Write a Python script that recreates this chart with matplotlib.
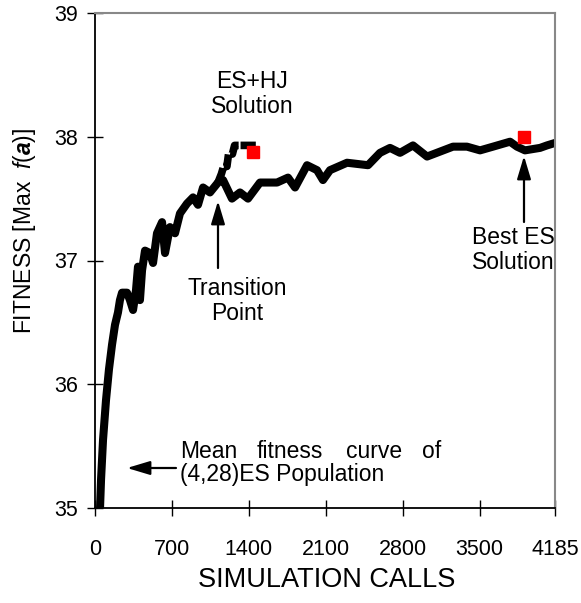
import matplotlib
matplotlib.use("Agg")
import matplotlib.pyplot as plt


# mean fitness curve of the (4,28)ES population
calls = [45, 55, 73, 100, 127, 155, 182, 209, 227, 246, 291, 318, 346, 373,
         391, 409, 428, 455, 500, 528, 564, 610, 637, 682, 728, 773, 837,
         892, 937, 983, 1046, 1119, 1165, 1246, 1319, 1392, 1501, 1656,
         1756, 1820, 1929, 2020, 2074, 2138, 2293, 2484, 2593, 2684, 2775,
         2893, 3021, 3139, 3257, 3384, 3503, 3621, 3776, 3839, 3912, 4049,
         4112, 4185]
fitness = [34.98, 35.23, 35.55, 35.87, 36.12, 36.32, 36.48, 36.58, 36.68,
           36.74, 36.74, 36.68, 36.60, 36.76, 36.95, 36.68, 36.92, 37.08,
           37.06, 36.98, 37.22, 37.31, 37.06, 37.27, 37.22, 37.38, 37.46,
           37.51, 37.45, 37.59, 37.55, 37.63, 37.65, 37.50, 37.55, 37.50,
           37.63, 37.63, 37.67, 37.59, 37.77, 37.73, 37.65, 37.73, 37.79,
           37.77, 37.87, 37.91, 37.87, 37.93, 37.84, 37.88, 37.92, 37.92,
           37.89, 37.92, 37.96, 37.92, 37.89, 37.91, 37.93, 37.95]

# hooke-jeeves branch starting at the transition point
hj_calls = [1119, 1150, 1170, 1200, 1215, 1250, 1270, 1480]
hj_fitness = [37.63, 37.70, 37.76, 37.76, 37.86, 37.86, 37.93, 37.93]

# best solutions
best_hj = (1438, 37.88)
best_es = (3903, 38.00)

x_ticks = [0, 700, 1400, 2100, 2800, 3500, 4185]
y_ticks = [35, 36, 37, 38, 39]

W, H = 581, 603


def fig_xy(px, py):
    return px / W, 1 - py / H


plt.rcParams.update({
    "font.family": ["Liberation Sans", "DejaVu Sans"],
    "mathtext.fontset": "custom",
    "mathtext.rm": "Liberation Sans",
    "mathtext.it": "Liberation Sans:italic",
    "mathtext.bf": "Liberation Sans:bold",
    "mathtext.bfit": "Liberation Sans:italic:bold",
})

fig = plt.figure(figsize=(W / 100, H / 100), dpi=100)
ax = fig.add_axes([95 / W, 1 - 508 / H, 460 / W, 495 / H])

ax.plot(calls, fitness, color="black", linewidth=5.8,
        solid_joinstyle="round", solid_capstyle="round")
ax.plot(hj_calls, hj_fitness, color="black", linewidth=5.5,
        linestyle=(0, (2.0, 0.25)), dash_capstyle="butt")

ax.plot(*best_hj, marker="s", markersize=8.5, color="red", linestyle="none")
ax.plot(*best_es, marker="s", markersize=8.5, color="red", linestyle="none")

ax.set_xlim(0, 4185)
ax.set_ylim(35, 39)
ax.set_xticks(x_ticks)
ax.set_yticks(y_ticks)
ax.tick_params(axis="both", direction="inout", length=11, width=1,
               labelsize=15.5, color="black")
ax.tick_params(axis="x", pad=17)
ax.tick_params(axis="y", pad=7)

for side in ["top", "right"]:
    ax.spines[side].set_color("#888888")
    ax.spines[side].set_linewidth(1.5)
for side in ["left", "bottom"]:
    ax.spines[side].set_color("black")
    ax.spines[side].set_linewidth(1.3)

fig.text(*fig_xy(327, 580), "SIMULATION CALLS", fontsize=19.5,
         ha="center", va="center")
fig.text(*fig_xy(24, 231), r"FITNESS [Max  $f$($\mathbfit{a}$)]",
         fontsize=16.5, rotation=90, ha="center", va="center")

# annotations
arrow = dict(arrowstyle="-|>,head_length=1.4,head_width=0.42",
             color="black", lw=1.6, shrinkA=0, shrinkB=0)

ax.annotate("", xy=fig_xy(218, 201), xytext=fig_xy(218, 268),
            xycoords="figure fraction", textcoords="figure fraction",
            arrowprops=arrow)
fig.text(*fig_xy(237, 301), "Transition\nPoint", fontsize=16.5,
         ha="center", va="center", linespacing=1.1)

ax.annotate("", xy=fig_xy(524, 156), xytext=fig_xy(524, 222),
            xycoords="figure fraction", textcoords="figure fraction",
            arrowprops=arrow)
fig.text(*fig_xy(513, 250), "Best ES\nSolution", fontsize=16.5,
         ha="center", va="center", linespacing=1.1)

fig.text(*fig_xy(252, 94), "ES+HJ\nSolution", fontsize=16.5,
         ha="center", va="center", linespacing=1.15)

ax.annotate("", xy=fig_xy(127, 468), xytext=fig_xy(176, 468),
            xycoords="figure fraction", textcoords="figure fraction",
            arrowprops=arrow)
for word, px in [("Mean", 180), ("fitness", 257), ("curve", 346), ("of", 422)]:
    fig.text(*fig_xy(px, 452), word, fontsize=16.5, ha="left", va="center")
fig.text(*fig_xy(180, 474), "(4,28)ES Population", fontsize=16.5,
         ha="left", va="center")

fig.savefig("out.png", dpi=100)
